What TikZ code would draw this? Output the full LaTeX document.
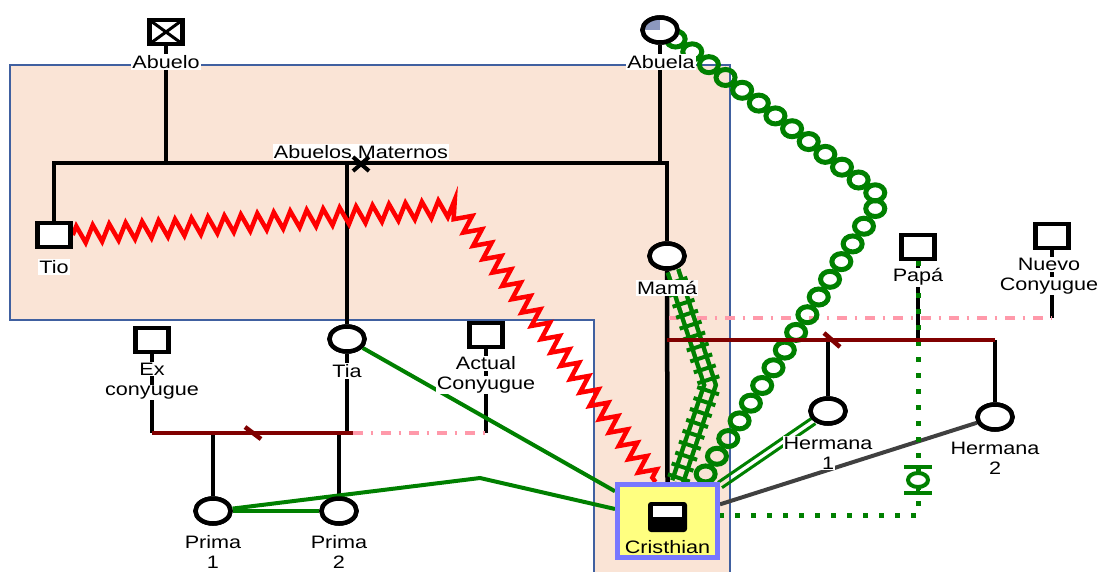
\documentclass[tikz,border=0pt]{standalone}
\usepackage{fontspec}
\setmainfont{Liberation Sans}[FakeStretch=1.2]
\usetikzlibrary{shapes.geometric,decorations.pathmorphing,decorations.markings}
\definecolor{salmonbg}{RGB}{250,228,214}
\definecolor{bordblue}{RGB}{64,96,160}
\definecolor{grn}{RGB}{0,128,0}
\definecolor{dred}{RGB}{128,0,0}
\definecolor{pinkc}{RGB}{255,153,170}
\definecolor{qfill}{RGB}{140,152,190}
\definecolor{dgrey}{RGB}{64,64,64}
\definecolor{cyell}{RGB}{255,255,128}
\definecolor{cbord}{RGB}{120,120,255}
\newcommand{\mywb}[1]{\colorbox{white}{#1}}
\setlength{\fboxsep}{1pt}
\begin{document}
\begin{tikzpicture}[x=1pt,y=-1pt,
  male/.style={draw, line width=4.5pt, fill=white, rectangle, minimum width=33pt, minimum height=24pt, inner sep=0pt},
  female/.style={draw, line width=4.5pt, fill=white, ellipse, minimum width=35pt, minimum height=25pt, inner sep=0pt},
  lab/.style={fill=white, inner sep=1pt, align=center, font=\fontsize{18}{21}\selectfont},
  lab2/.style={inner sep=0pt, align=center, font=\fontsize{18}{20}\selectfont},
  kin/.style={line width=4.5pt, black},
  marr/.style={line width=4.5pt, dred},
  partner/.style={line width=3.5pt, pinkc, dash pattern=on 10pt off 7.5pt on 2pt off 8.5pt},
  grline/.style={line width=4pt, grn},
  relmark/.style={line width=4pt},
]
\useasboundingbox (0,0) rectangle (1099,571);
% background group
\fill[salmonbg, draw=bordblue, line width=1.8pt]
  (10,65) -- (730,65) -- (730,580) -- (594,580) -- (594,320) -- (10,320) -- cycle;

% ---------- people ----------
\node[male] (abuelo) at (166,32) {};
\node[female] (abuela) at (660,30) {};
\node[male] (tio) at (54,235) {};
\node[female] (mama) at (667,256) {};
\node[female] (tia) at (347,339) {};
\node[male] (exc) at (152,340) {};
\node[male] (actc) at (486,335) {};
\node[female] (p1) at (213,511) {};
\node[female] (p2) at (339,511) {};
\node[male] (papa) at (918,247) {};
\node[male] (nuevo) at (1052,236) {};
\node[female] (h1) at (828,411) {};
\node[female] (h2) at (995,417) {};
\node[draw=cbord, fill=cyell, line width=5pt, minimum width=100pt, minimum height=73pt, inner sep=0pt] (cr) at (667.5,521) {};

% ---------- junction coordinates ----------
\coordinate (sibL) at (54,163);
\coordinate (sibR) at (667,163);
\coordinate (abJ) at (166,163);
\coordinate (abaJ) at (660,163);
\coordinate (tiaJ) at (347,163);
\coordinate (m1L) at (152,433);
\coordinate (m1R) at (353,433);
\coordinate (m1P) at (486,433);
\coordinate (tiaB) at (347,433);
\coordinate (p1J) at (213,433);
\coordinate (p2J) at (339,433);
\coordinate (m2L) at (667,340);
\coordinate (m2R) at (995,340);
\coordinate (h1J) at (828,340);
\coordinate (papaJ) at (918,340);
\coordinate (ppL) at (669,318);
\coordinate (ppR) at (1052,318);
\coordinate (zz) at (456,208);
\coordinate (rr) at (710,385);
\coordinate (coilT) at (882,198);
\coordinate (bend) at (480,478);
\coordinate (gd) at (918,515);

% ---------- family lines ----------
\draw[kin] (tio.north) -- (sibL) -- (sibR) -- (mama.north);
\draw[kin] (abuelo.south) -- (abJ);
\draw[kin] (abuela.south) -- (abaJ);
\draw[kin] (tiaJ) -- (tia.north);
\draw[kin] (exc.south) -- (m1L);
\draw[kin] (tia.south) -- (tiaB);
\draw[kin] (actc.south) -- (m1P);
\draw[kin] (p1J) -- (p1.north);
\draw[kin] (p2J) -- (p2.north);
\draw[kin] (mama.south) -- (cr.north);
\draw[kin] (papa.south) -- (papaJ);
\draw[kin] (nuevo.south) -- (ppR);
\draw[kin] (h1J) -- (h1.north);
\draw[kin] (m2R) -- (h2.north);
\draw[partner] (m1R) -- (m1P);
\draw[partner] (ppL) -- (ppR);

% ---------- emotional relationships ----------
\draw[red, line width=4.5pt, line join=miter, decorate, decoration={zigzag, segment length=16.5pt, amplitude=8.5pt}]
  (tio.east) -- (zz) -- ([xshift=-12pt]cr.north);
\draw[grn, line width=4.5pt, double=salmonbg, double distance=6.5pt,
  postaction={decorate, decoration={markings, mark=between positions 0.05 and 1 step 11.5pt with {\draw[grn, line width=4pt] (0,-11.5pt) -- (0,11.5pt);}}}]
  ([xshift=6pt]mama.south) -- (rr) -- ([xshift=10pt]cr.north);
\path[decorate, decoration={markings, mark=between positions 0 and 1 step 21pt with {\pgftransformresetnontranslations\draw[grn, line width=5pt] (0pt,0pt) ellipse [x radius=9.5pt, y radius=8pt];}}]
  (abuela.-30) -- (coilT) -- ([xshift=33pt]cr.north);
\draw[grline] (tia) -- (cr);
\draw[grline] (p1) -- (bend) -- (cr);
\draw[grline] (p1) -- (p2);
\draw[grn, line width=3pt, transform canvas={shift={(2pt,-2.6pt)}}] (h1) -- (cr);
\draw[grn, line width=3pt, transform canvas={shift={(-2pt,2.6pt)}}] (h1) -- (cr);
\draw[dgrey, line width=4pt] (h2) -- (cr);
\draw[grn, line width=5pt, dash pattern=on 5pt off 11pt] (papa.south) -- (gd) -- (cr.east |- gd);
\draw[grn, line width=4pt] (918,467) -- (918,493);
\draw[grn, line width=4pt] (904,467) -- (932,467) (904,493) -- (932,493);
\node[draw=grn, fill=white, line width=4pt, ellipse, minimum width=20pt, minimum height=14pt, inner sep=0pt] (dmark) at (918,480) {};

% ---------- marriage lines ----------
\draw[marr] (m1L) -- (m1R);
\draw[marr] (245,427) -- (261,439);
\draw[marr] (m2L) -- (m2R);
\draw[marr] (824,333) -- (840,347);

% ---------- redraw people on top ----------
\node[male, path picture={\draw[line width=3pt] (path picture bounding box.north west) -- (path picture bounding box.south east) (path picture bounding box.north east) -- (path picture bounding box.south west);}] (abuelo2) at (166,32) {};
\node[female, path picture={\fill[qfill] (path picture bounding box.center) rectangle (path picture bounding box.north west);}] (abuela2) at (660,30) {};
\node[male] (tio2) at (54,235) {};
\node[female] (mama2) at (667,256) {};
\node[female] (tia2) at (347,339) {};
\node[female] (p1b) at (213,511) {};
\node[female] (p2b) at (339,511) {};
\node[female] (h1b) at (828,411) {};
\node[female] (h2b) at (995,417) {};
\node[draw=cbord, fill=cyell, line width=5pt, minimum width=100pt, minimum height=73pt, inner sep=0pt] (cr2) at (667.5,521) {};
\node[fill=black, rounded corners=3pt, minimum width=39pt, minimum height=30pt, inner sep=0pt] (cricon) at (667.5,517) {};
\node[fill=white, minimum width=29pt, minimum height=11pt, inner sep=0pt] (criconw) at (667.5,511.5) {};

% ---------- labels ----------
\node[lab] (abuelo_l) at (166,62) {Abuelo};
\node[lab] (abuela_l) at (661,62) {Abuela};
\node[lab] (am_l) at (361,152) {Abuelos Maternos};
\draw[relmark] (353,157) -- (369,171) (353,171) -- (369,157);
\node[lab] (tio_l) at (54,267) {Tio};
\node[lab] (mama_l) at (667,288) {Mamá};
\node[lab] (tia_l) at (347,371) {Tia};
\node[lab2] (exc_l) at (152,381) {\mywb{Ex}\\\mywb{conyugue}};
\node[lab2] (actc_l) at (486,375) {\mywb{Actual}\\\mywb{Conyugue}};
\node[lab2] (p1_l) at (213,552) {\mywb{Prima}\\\mywb{1}};
\node[lab2] (p2_l) at (339,552) {\mywb{Prima}\\\mywb{2}};
\node[lab] (papa_l) at (918,277) {Papá};
\node[lab2] (nuevo_l) at (1049,276) {\mywb{Nuevo}\\\mywb{Conyugue}};
\node[lab2] (h1_l) at (828,453) {\mywb{Hermana}\\\mywb{1}};
\node[lab2] (h2_l) at (995,458) {\mywb{Hermana}\\\mywb{2}};
\node[lab, fill=none] (cr_l) at (667.5,547) {Cristhian};
\end{tikzpicture}
\end{document}
